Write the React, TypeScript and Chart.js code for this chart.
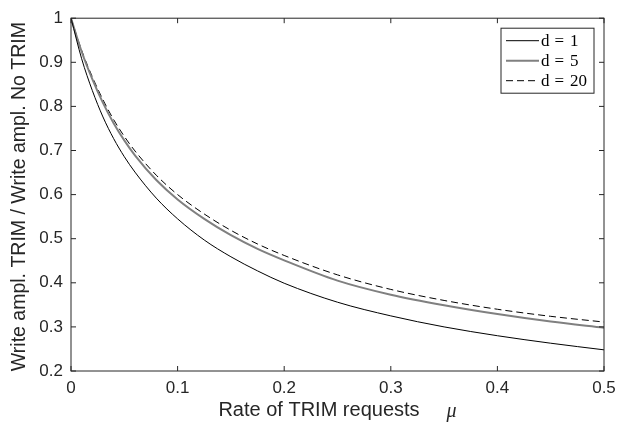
import React, { useEffect, useRef } from 'react';
import { Chart, registerables } from 'chart.js';

Chart.register(...registerables);

// ---- data ----
const MU = [0, 0.01, 0.02, 0.03, 0.04, 0.05, 0.06, 0.08, 0.1, 0.125, 0.15, 0.175, 0.2, 0.25, 0.3, 0.35, 0.4, 0.45, 0.5];
const D1 = [1, 0.908, 0.836, 0.776, 0.727, 0.686, 0.651, 0.592, 0.545, 0.497, 0.459, 0.427, 0.399, 0.356, 0.325, 0.3, 0.28, 0.263, 0.248];
const D5 = [1, 0.924, 0.862, 0.808, 0.762, 0.723, 0.689, 0.633, 0.589, 0.545, 0.508, 0.477, 0.451, 0.405, 0.373, 0.349, 0.329, 0.312, 0.298];
const D20 = [1, 0.927, 0.867, 0.815, 0.77, 0.732, 0.699, 0.644, 0.6, 0.556, 0.519, 0.488, 0.462, 0.418, 0.385, 0.36, 0.34, 0.324, 0.311];
const LABELS = ['d = 1', 'd = 5', 'd = 20'];
const X_TITLE = 'Rate of TRIM requests';
const X_SYMBOL = 'μ';
const Y_TITLE = 'Write ampl. TRIM / Write ampl. No TRIM';

const AXIS_COLOR = '#262626';

const toPts = (ys: number[]) => MU.map((x, i) => ({ x, y: ys[i] }));
const fmt = (v: any) => String(Math.round(Number(v) * 100) / 100);

const matlabPlugin = {
  id: 'matlabDecor',
  afterDraw(chart: any) {
    const { ctx, chartArea: a, scales } = chart;
    ctx.save();
    // box
    ctx.strokeStyle = AXIS_COLOR;
    ctx.lineWidth = 1;
    ctx.setLineDash([]);
    ctx.strokeRect(a.left, a.top, a.right - a.left, a.bottom - a.top);
    // inward ticks on all four sides
    const tl = 5;
    ctx.beginPath();
    scales.x.ticks.forEach((t: any) => {
      const px = scales.x.getPixelForValue(t.value);
      ctx.moveTo(px, a.bottom); ctx.lineTo(px, a.bottom - tl);
      ctx.moveTo(px, a.top); ctx.lineTo(px, a.top + tl);
    });
    scales.y.ticks.forEach((t: any) => {
      const py = scales.y.getPixelForValue(t.value);
      ctx.moveTo(a.left, py); ctx.lineTo(a.left + tl, py);
      ctx.moveTo(a.right, py); ctx.lineTo(a.right - tl, py);
    });
    ctx.stroke();

    // axis titles
    ctx.fillStyle = AXIS_COLOR;
    ctx.textBaseline = 'middle';
    ctx.font = '20px "Liberation Sans", Arial, sans-serif';
    const w1 = ctx.measureText(X_TITLE).width;
    ctx.font = 'italic 20px "Liberation Serif", serif';
    const w2 = ctx.measureText(X_SYMBOL).width;
    const gap = 27;
    const cx = (a.left + a.right) / 2;
    const start = cx - (w1 + gap + w2) / 2;
    ctx.textAlign = 'left';
    ctx.font = '20px "Liberation Sans", Arial, sans-serif';
    ctx.fillText(X_TITLE, start, 410);
    ctx.font = 'italic 20px "Liberation Serif", serif';
    ctx.fillText(X_SYMBOL, start + w1 + gap, 412);

    ctx.save();
    ctx.translate(20, (a.top + a.bottom) / 2 + 2);
    ctx.rotate(-Math.PI / 2);
    ctx.textAlign = 'center';
    ctx.font = '19.5px "Liberation Sans", Arial, sans-serif';
    ctx.fillText(Y_TITLE, 0, 0);
    ctx.restore();

    // legend
    const bw = 93, bh = 65;
    const bx = a.right - 10 - bw, by = a.top + 10;
    ctx.fillStyle = '#ffffff';
    ctx.fillRect(bx, by, bw, bh);
    ctx.strokeStyle = AXIS_COLOR;
    ctx.lineWidth = 1;
    ctx.strokeRect(bx, by, bw, bh);
    chart.data.datasets.forEach((ds: any, i: number) => {
      const ry = by + 12.5 + i * 20;
      ctx.strokeStyle = ds.borderColor;
      ctx.lineWidth = ds.borderWidth;
      ctx.setLineDash(ds.borderDash || []);
      ctx.beginPath();
      ctx.moveTo(bx + 5, ry);
      ctx.lineTo(bx + 38, ry);
      ctx.stroke();
      ctx.setLineDash([]);
      ctx.fillStyle = '#000000';
      ctx.font = '17px "Liberation Serif", serif';
      ctx.textAlign = 'left';
      const parts = String(ds.label).split('=').map((s: string) => s.trim());
      let x = bx + 40;
      ctx.fillText(parts[0], x, ry + 1);
      x += ctx.measureText(parts[0]).width + 5;
      ctx.fillText('=', x, ry + 1);
      x += ctx.measureText('=').width + 6;
      ctx.fillText(parts[1], x, ry + 1);
    });
    ctx.restore();
  },
};

export default function App() {
  const ref = useRef<HTMLCanvasElement | null>(null);
  useEffect(() => {
    if (!ref.current) return;
    const chart = new Chart(ref.current, {
      type: 'line',
      data: {
        datasets: [
          { label: LABELS[0], data: toPts(D1), borderColor: '#000000', borderWidth: 1, pointRadius: 0, cubicInterpolationMode: 'monotone', fill: false },
          { label: LABELS[1], data: toPts(D5), borderColor: '#808080', borderWidth: 2, pointRadius: 0, cubicInterpolationMode: 'monotone', fill: false },
          { label: LABELS[2], data: toPts(D20), borderColor: '#000000', borderWidth: 1, borderDash: [7, 4], pointRadius: 0, cubicInterpolationMode: 'monotone', fill: false },
        ],
      },
      options: {
        responsive: false,
        animation: false,
        devicePixelRatio: 1,
        layout: { padding: { top: 11, right: 25, left: 0, bottom: 0 } },
        plugins: { legend: { display: false }, tooltip: { enabled: false } },
        scales: {
          x: {
            type: 'linear',
            min: 0,
            max: 0.5,
            grid: { display: false, drawTicks: false },
            border: { display: false },
            ticks: { stepSize: 0.1, color: AXIS_COLOR, padding: 7, maxRotation: 0, callback: fmt, font: { family: '"Liberation Sans", Arial, sans-serif', size: 17 } },
            afterFit: (s: any) => { s.height = 54; },
          },
          y: {
            type: 'linear',
            min: 0.2,
            max: 1,
            grid: { display: false, drawTicks: false },
            border: { display: false },
            ticks: { stepSize: 0.1, color: AXIS_COLOR, padding: 8, callback: fmt, font: { family: '"Liberation Sans", Arial, sans-serif', size: 17 } },
            afterFit: (s: any) => { s.width = 71; },
          },
        },
      },
      plugins: [matlabPlugin],
    } as any);
    return () => chart.destroy();
  }, []);
  return (
    <div style={{ position: 'absolute', left: 0, top: 0, width: 629, height: 425 }}>
      <canvas ref={ref} width={629} height={425} />
    </div>
  );
}
